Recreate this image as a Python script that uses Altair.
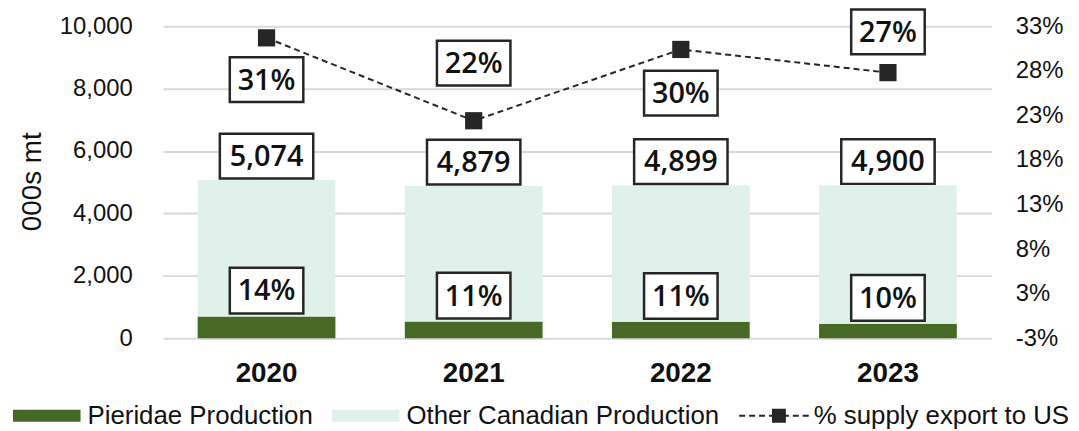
import altair as alt
import pandas as pd

# ---------------- data ----------------
years = ["2020", "2021", "2022", "2023"]
total_production = [5074, 4879, 4899, 4900]          # 000s mt
pieridae_production = [700, 535, 525, 465]          # 000s mt
pieridae_share_pct = [14, 11, 11, 10]               # labels
export_to_us_pct = [31.2, 21.9, 29.9, 27.3]         # % supply export to US
series_names = ["Pieridae Production", "Other Canadian Production", "% supply export to US"]
left_ticks = [0, 2000, 4000, 6000, 8000, 10000]
right_ticks = [-2.5, 2.5, 7.5, 12.5, 17.5, 22.5, 27.5, 32.5]

# ---------------- styles ----------------
GREEN = "#466a26"
LIGHT = "#dff1ea"
DARK = "#262626"
TEXT = "#111111"
GRID = "#d9d9d9"
AX_FONT = "Liberation Sans"
LBL_FONT = "Open Sans"
LINE_LABEL_OFFSET = {"2020": 42, "2021": -58, "2022": 44, "2023": -41}

BOX_UNIT = 50  # custom symbol path scale = sqrt(size)/2
CHAR_W = {"%": 23, ",": 9}


def box_path(text, h=45, pad=17):
    w = pad + sum(CHAR_W.get(c, 17) for c in text)
    a, b = w / 2 / BOX_UNIT, h / 2 / BOX_UNIT
    return f"M{-a:.4f},{-b:.4f}H{a:.4f}V{b:.4f}H{-a:.4f}Z"


# legend symbol paths: symbolSize 144 -> 1 unit = 6 px, symbol centre at 6 px
U = 6.0


def rect(x0, x1, y0, y1):
    return f"M{x0 / U:.3f},{y0 / U:.3f}H{x1 / U:.3f}V{y1 / U:.3f}H{x0 / U:.3f}Z"


BAR_PATH = rect(-6, 62, -6, 6)
_parts = []
for a, b in [(-6, 0), (4, 10), (14, 20), (24, 27), (41, 44), (48, 54), (58, 64)]:
    _parts.append(rect(a, b, -1, 1))
_parts.append(rect(27, 41, -7, 7))
LINE_PATH = "".join(_parts)

# ---------------- tables ----------------
bar_rows = []
for y, t, p in zip(years, total_production, pieridae_production):
    bar_rows.append({"year": y, "series": series_names[0], "value": p, "order": 0})
    bar_rows.append({"year": y, "series": series_names[1], "value": t - p, "order": 1})
bars_df = pd.DataFrame(bar_rows)

totals_df = pd.DataFrame({
    "year": years,
    "total": total_production,
    "label": [f"{t:,}" for t in total_production],
})
totals_df["box"] = totals_df["label"].map(box_path)

pier_df = pd.DataFrame({
    "year": years,
    "value": pieridae_production,
    "label": [f"{s}%" for s in pieridae_share_pct],
})
pier_df["box"] = pier_df["label"].map(lambda s: box_path(s, h=46))

line_df = pd.DataFrame({
    "year": years,
    "pct": export_to_us_pct,
    "label": [f"{round(v)}%" for v in export_to_us_pct],
})
line_df["box"] = line_df["label"].map(box_path)

# ---------------- encodings ----------------
x_enc = alt.X(
    "year:N",
    scale=alt.Scale(paddingInner=0.335, paddingOuter=0.1675),
    axis=alt.Axis(title=None, labelAngle=0, labelFont=AX_FONT, labelFontSize=28,
                  labelFontWeight="bold", labelColor=TEXT, ticks=False, domain=False,
                  labelPadding=22),
)

left_scale = alt.Scale(domain=[0, 10000], nice=False, zero=True)
left_axis = alt.Axis(title="000s mt", values=left_ticks, grid=True,
                     labelExpr="format(datum.value, ',')",
                     gridColor=GRID, gridWidth=2, ticks=False, domain=False,
                     labelFont=AX_FONT, labelFontSize=24, labelColor=TEXT,
                     labelPadding=31, titleFont=AX_FONT, titleFontSize=28,
                     titleFontWeight="normal", titleColor=TEXT, titleAngle=-90,
                     titleX=-131, titleY=156, titleAlign="center",
                     titleBaseline="middle")

right_scale = alt.Scale(domain=[-2.5, 32.5], nice=False, zero=False)
right_axis = alt.Axis(title=None, orient="right", values=right_ticks, grid=False,
                      ticks=False, domain=False, labelFont=AX_FONT, labelFontSize=24,
                      labelColor=TEXT, labelPadding=24,
                      labelExpr="(datum.value < 0 ? '-' : '') + round(abs(datum.value) + 0.01) + '%'")


def yl(field):
    return alt.Y(field, scale=left_scale, axis=left_axis, stack=None)


def yr(field):
    return alt.Y(field, scale=right_scale, axis=right_axis)


legend_shape = f"datum.value === '{series_names[2]}' ? '{LINE_PATH}' : '{BAR_PATH}'"

bars = alt.Chart(bars_df).mark_bar(opacity=1).encode(
    x=x_enc,
    y=alt.Y("value:Q", scale=left_scale, axis=left_axis, stack="zero"),
    color=alt.Color(
        "series:N",
        scale=alt.Scale(domain=series_names, range=[GREEN, LIGHT, DARK]),
        legend=alt.Legend(
            title=None, orient="none", legendX=-158, legendY=379,
            direction="horizontal", labelFont=AX_FONT, labelFontSize=26,
            labelColor=TEXT, labelLimit=500, symbolSize=144, labelOffset=56,
            columnPadding=12, padding=0, symbolStrokeWidth=0, symbolOpacity=1,
            symbolType=alt.ExprRef(legend_shape),
        ),
    ),
    order=alt.Order("order:Q"),
)

box_props = dict(filled=True, fill="white", stroke=DARK, strokeWidth=2.5, opacity=1,
                 fillOpacity=1, strokeOpacity=1, size=(2 * BOX_UNIT) ** 2)
text_props = dict(font=LBL_FONT, fontWeight=600, fontSize=29, color=TEXT,
                  baseline="middle", align="center")

total_boxes = alt.Chart(totals_df).mark_point(yOffset=-24, **box_props).encode(
    x=x_enc, y=yl("total:Q"), shape=alt.Shape("box:N", scale=None, legend=None))
total_text = alt.Chart(totals_df).mark_text(yOffset=-23, **text_props).encode(
    x=x_enc, y=yl("total:Q"), text="label:N")

pier_boxes = alt.Chart(pier_df).mark_point(yOffset=-26, **box_props).encode(
    x=x_enc, y=yl("value:Q"), shape=alt.Shape("box:N", scale=None, legend=None))
pier_text = alt.Chart(pier_df).mark_text(yOffset=-25, **text_props).encode(
    x=x_enc, y=yl("value:Q"), text="label:N")

off_expr = " : ".join(f"datum.year == '{k}' ? {v}" for k, v in LINE_LABEL_OFFSET.items()) + " : 0"

line = alt.Chart(line_df).mark_line(color=DARK, strokeDash=[6, 4], strokeWidth=2).encode(
    x=x_enc, y=yr("pct:Q"))
points = alt.Chart(line_df).mark_point(shape="square", filled=True, size=300,
                                       color=DARK, opacity=1).encode(
    x=x_enc, y=yr("pct:Q"))
line_boxes = alt.Chart(line_df).mark_point(yOffset=alt.ExprRef(off_expr), **box_props).encode(
    x=x_enc, y=yr("pct:Q"), shape=alt.Shape("box:N", scale=None, legend=None))
line_text = alt.Chart(line_df).mark_text(yOffset=alt.ExprRef("(" + off_expr + ") + 1"), **text_props).encode(
    x=x_enc, y=yr("pct:Q"), text="label:N")

left = alt.layer(bars, total_boxes, total_text, pier_boxes, pier_text)
right = alt.layer(line, points, line_boxes, line_text)

chart = alt.layer(left, right).resolve_scale(
    y="independent", shape="independent"
).properties(
    width=834, height=314,
    autosize=alt.AutoSizeParams(type="none"),
    padding={"left": 156, "top": 17, "right": 80, "bottom": 91},
    background="white",
).configure_view(stroke=None)

chart.save("out.html", embed_options={"renderer": "svg", "actions": False})
